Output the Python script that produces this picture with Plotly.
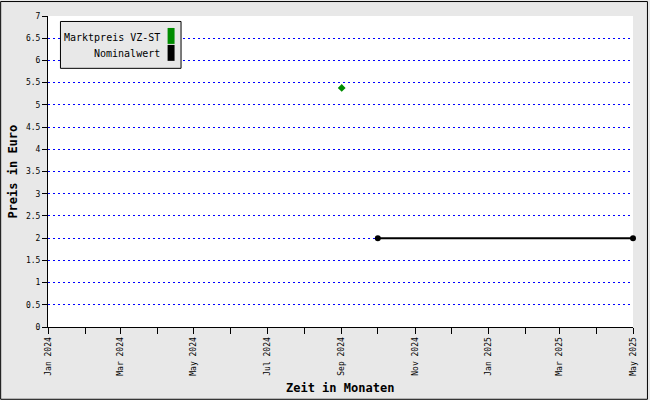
import plotly.graph_objects as go

# ---- data ----
market_dates = ["2024-09-01"]
market_prices = [5.38]
nominal_dates = ["2024-10-01", "2025-05-01"]
nominal_values = [2, 2]
month_ticks = ["2024-01-01", "2024-02-01", "2024-03-01", "2024-04-01", "2024-05-01",
               "2024-06-01", "2024-07-01", "2024-08-01", "2024-09-01", "2024-10-01",
               "2024-11-01", "2024-12-01", "2025-01-01", "2025-02-01", "2025-03-01",
               "2025-04-01", "2025-05-01"]
month_labels = ["Jan 2024", "", "Mar 2024", "", "May 2024", "", "Jul 2024", "", "Sep 2024", "",
                "Nov 2024", "", "Jan 2025", "", "Mar 2025", "", "May 2025"]
y_ticks = [i * 0.5 for i in range(15)]
y_labels = ["0", "0.5", "1", "1.5", "2", "2.5", "3", "3.5", "4", "4.5", "5", "5.5", "6", "6.5", "7"]
legend_names = ["Marktpreis VZ-ST", "Nominalwert"]
legend_colors = ["#008c00", "#000000"]

W, H = 650, 400
L, R, T, B = 48, 15, 15, 73
PW, PH = W - L - R, H - T - B


def px(x):
    return (x - L) / PW


def py(y):
    return (H - B - y) / PH


MONO = "DejaVu Sans Mono"

fig = go.Figure()
fig.add_trace(go.Scatter(x=nominal_dates, y=nominal_values, mode="lines+markers",
                         line=dict(color=legend_colors[1], width=2),
                         marker=dict(symbol="circle", size=6, color=legend_colors[1]),
                         name=legend_names[1], cliponaxis=False))
fig.add_trace(go.Scatter(x=market_dates, y=market_prices, mode="markers",
                         marker=dict(symbol="diamond", size=6, color=legend_colors[0]),
                         name=legend_names[0]))

shapes = [
    dict(type="rect", xref="paper", yref="paper", x0=px(0.5), x1=px(649.5), y0=py(399.5), y1=py(0.5),
         line=dict(color="#000000", width=1), fillcolor="rgba(0,0,0,0)"),
    dict(type="rect", xref="paper", yref="paper", x0=px(60.5), x1=px(181.5), y0=py(67.5), y1=py(20.5),
         line=dict(color="#000000", width=1), fillcolor="#e8e8e8"),
    dict(type="rect", xref="paper", yref="paper", x0=px(168), x1=px(175), y0=py(43), y1=py(27),
         line=dict(width=0), fillcolor=legend_colors[0]),
    dict(type="rect", xref="paper", yref="paper", x0=px(168), x1=px(175), y0=py(60), y1=py(44),
         line=dict(width=0), fillcolor=legend_colors[1]),
]

annotations = [
    dict(text=legend_names[0], xref="paper", yref="paper", x=px(162), y=py(37),
         xanchor="right", yanchor="middle", showarrow=False, font=dict(family=MONO, size=10, color="#000")),
    dict(text=legend_names[1], xref="paper", yref="paper", x=px(162), y=py(53),
         xanchor="right", yanchor="middle", showarrow=False, font=dict(family=MONO, size=10, color="#000")),
    dict(text="<b>Zeit in Monaten</b>", xref="paper", yref="paper", x=px(341), y=py(388),
         xanchor="center", yanchor="middle", showarrow=False, font=dict(family=MONO, size=12, color="#000")),
    dict(text="<b>Preis in Euro</b>", xref="paper", yref="paper", x=px(12), y=py(171),
         xanchor="center", yanchor="middle", textangle=-90, showarrow=False,
         font=dict(family=MONO, size=12, color="#000")),
]

fig.update_layout(
    width=W, height=H,
    margin=dict(l=L, r=R, t=T, b=B, pad=0),
    paper_bgcolor="#e8e8e8", plot_bgcolor="#ffffff",
    showlegend=False,
    shapes=shapes, annotations=annotations,
    font=dict(family=MONO, size=8, color="#000"),
)
fig.update_xaxes(type="date", range=["2024-01-01", "2025-05-01"],
                 tickvals=month_ticks, ticktext=month_labels, tickangle=-90,
                 ticks="outside", ticklen=6, tickcolor="#000", tickwidth=1,
                 showline=True, linecolor="#000", linewidth=1,
                 showgrid=False, zeroline=False, tickfont=dict(family=MONO, size=8))
fig.update_yaxes(range=[0, 7], tickvals=y_ticks, ticktext=y_labels,
                 ticks="outside", ticklen=5, tickcolor="#000", tickwidth=1,
                 showline=True, linecolor="#000", linewidth=1,
                 showgrid=True, gridcolor="#0000ff", gridwidth=1, griddash="2px,3px",
                 zeroline=False, tickfont=dict(family=MONO, size=8))

fig.write_html("out.html", config={"displayModeBar": False},
               post_script="document.body.style.margin='0px';document.body.style.overflow='hidden';")
